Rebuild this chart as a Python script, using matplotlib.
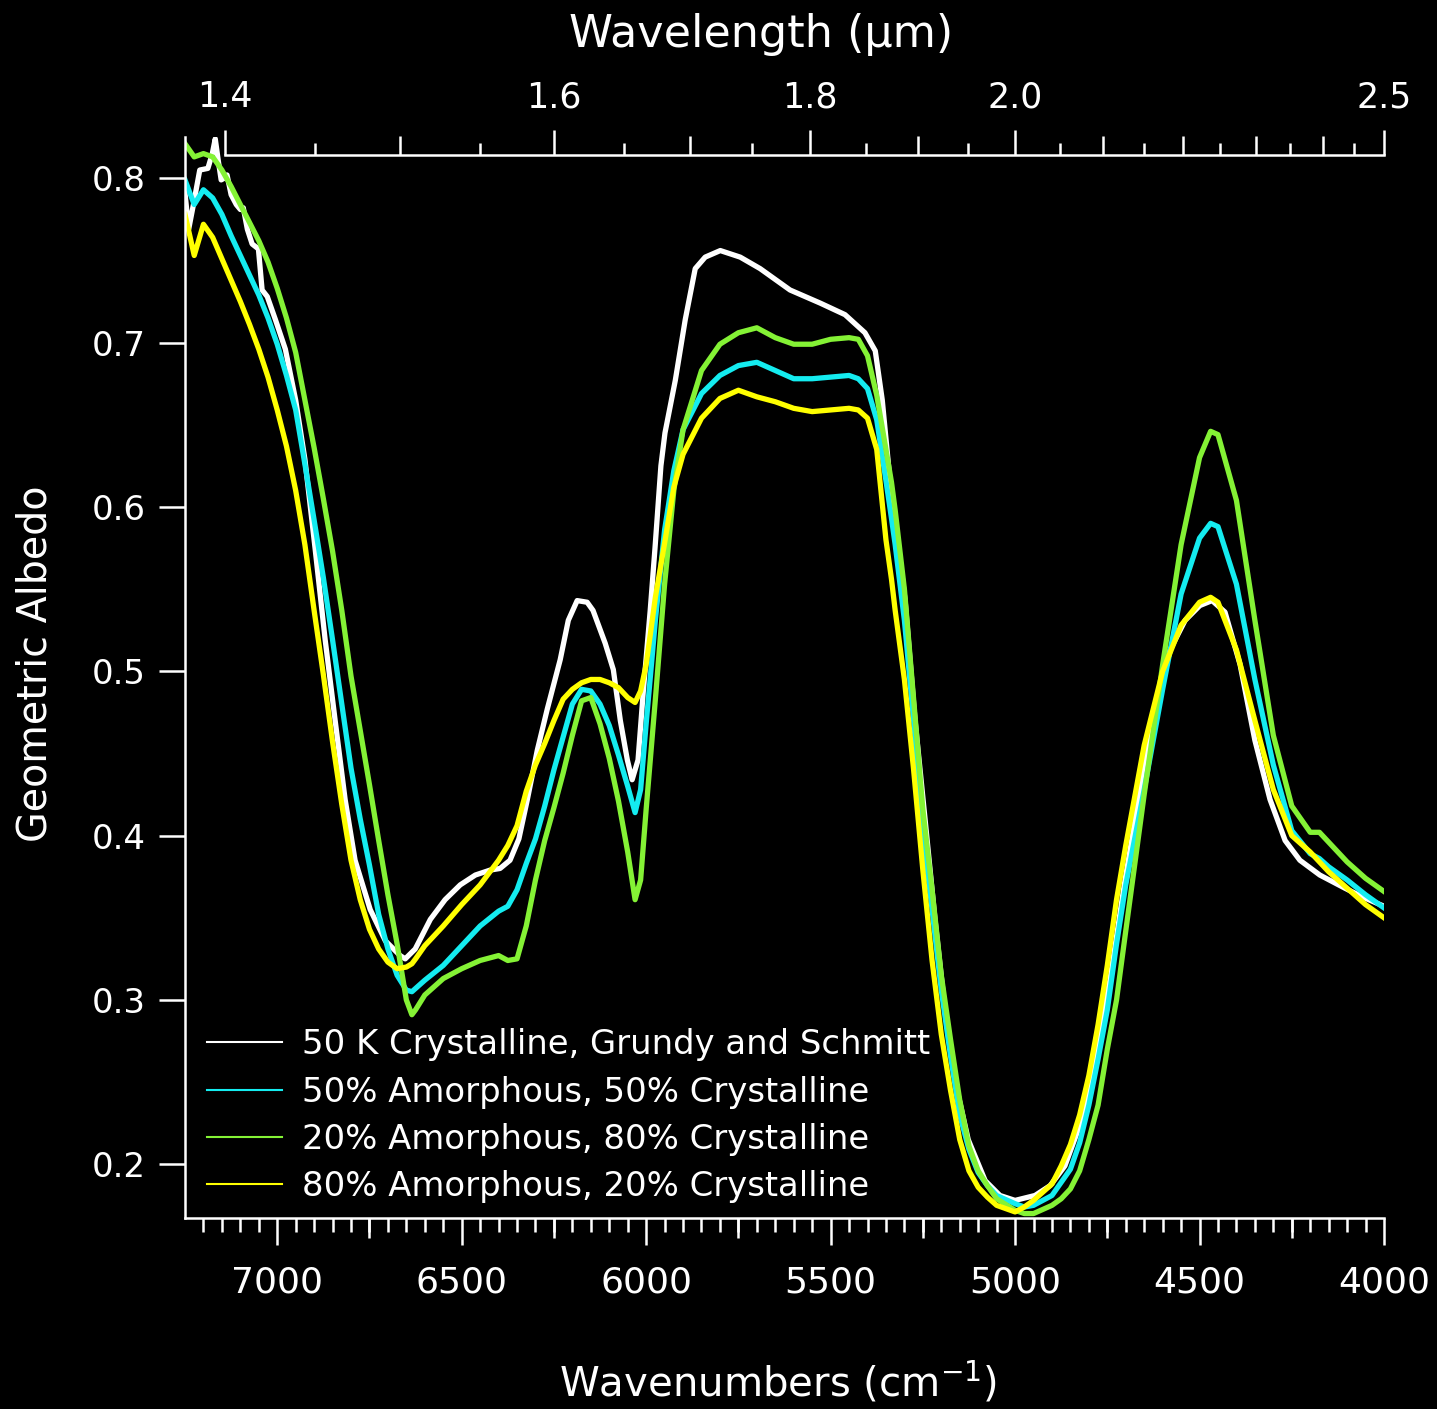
import numpy as np
import matplotlib
matplotlib.use("Agg")
import matplotlib.pyplot as plt
from matplotlib.ticker import FixedLocator, NullFormatter, NullLocator

# Wavenumber grid (cm^-1) shared by the three model spectra
wavenumber = [7250, 7225, 7200, 7175, 7150, 7125, 7100, 7075, 7050, 7025,
              7000, 6975, 6950, 6925, 6900, 6875, 6850, 6825, 6800, 6775,
              6750, 6725, 6700, 6675, 6650, 6635, 6625, 6600, 6550, 6500,
              6450, 6400, 6375, 6350, 6325, 6300, 6275, 6250, 6225, 6200,
              6175, 6150, 6125, 6100, 6075, 6050, 6030, 6015, 6000, 5975,
              5950, 5925, 5900, 5850, 5800, 5750, 5700, 5650, 5600, 5550,
              5500, 5450, 5425, 5400, 5375, 5350, 5335, 5325, 5300, 5275,
              5250, 5225, 5200, 5175, 5150, 5125, 5100, 5075, 5050, 5000,
              4975, 4950, 4900, 4875, 4850, 4825, 4800, 4775, 4750, 4725,
              4700, 4650, 4600, 4550, 4500, 4470, 4450, 4400, 4350, 4300,
              4250, 4200, 4175, 4150, 4100, 4050, 4000]

amorph50 = [0.799, 0.784, 0.793, 0.788, 0.778, 0.765, 0.753, 0.741, 0.729, 0.715,
            0.699, 0.680, 0.659, 0.626, 0.592, 0.557, 0.519, 0.480, 0.441, 0.410,
            0.382, 0.352, 0.331, 0.315, 0.306, 0.305, 0.307, 0.312, 0.321, 0.333,
            0.345, 0.354, 0.357, 0.367, 0.383, 0.398, 0.418, 0.440, 0.460, 0.480,
            0.489, 0.488, 0.480, 0.467, 0.449, 0.430, 0.414, 0.428, 0.468, 0.531,
            0.586, 0.622, 0.647, 0.669, 0.680, 0.686, 0.688, 0.683, 0.678, 0.678,
            0.679, 0.680, 0.678, 0.672, 0.653, 0.616, 0.593, 0.577, 0.531, 0.470,
            0.403, 0.355, 0.306, 0.266, 0.230, 0.209, 0.195, 0.187, 0.181, 0.176,
            0.174, 0.175, 0.181, 0.189, 0.197, 0.213, 0.236, 0.264, 0.294, 0.334,
            0.370, 0.428, 0.489, 0.547, 0.581, 0.590, 0.588, 0.553, 0.495, 0.443,
            0.403, 0.389, 0.386, 0.381, 0.373, 0.364, 0.356]

amorph20 = [0.821, 0.813, 0.815, 0.813, 0.805, 0.795, 0.784, 0.773, 0.762, 0.749,
            0.733, 0.715, 0.694, 0.665, 0.636, 0.605, 0.573, 0.537, 0.497, 0.464,
            0.431, 0.397, 0.364, 0.334, 0.300, 0.291, 0.294, 0.303, 0.313, 0.319,
            0.324, 0.327, 0.324, 0.325, 0.345, 0.373, 0.397, 0.417, 0.438, 0.461,
            0.482, 0.484, 0.468, 0.447, 0.421, 0.390, 0.361, 0.373, 0.416, 0.483,
            0.553, 0.610, 0.647, 0.683, 0.699, 0.706, 0.709, 0.703, 0.699, 0.699,
            0.702, 0.703, 0.702, 0.692, 0.668, 0.635, 0.615, 0.598, 0.550, 0.483,
            0.416, 0.367, 0.315, 0.276, 0.239, 0.211, 0.196, 0.187, 0.179, 0.172,
            0.170, 0.170, 0.175, 0.179, 0.185, 0.196, 0.215, 0.236, 0.270, 0.300,
            0.342, 0.425, 0.504, 0.577, 0.630, 0.646, 0.644, 0.604, 0.531, 0.461,
            0.418, 0.402, 0.402, 0.396, 0.384, 0.374, 0.366]

amorph80 = [0.778, 0.753, 0.772, 0.764, 0.751, 0.738, 0.725, 0.711, 0.696, 0.679,
            0.659, 0.637, 0.610, 0.577, 0.537, 0.498, 0.457, 0.419, 0.385, 0.361,
            0.343, 0.331, 0.323, 0.319, 0.320, 0.322, 0.325, 0.333, 0.345, 0.358,
            0.370, 0.385, 0.394, 0.406, 0.427, 0.443, 0.456, 0.470, 0.483, 0.489,
            0.493, 0.495, 0.495, 0.493, 0.490, 0.484, 0.481, 0.488, 0.504, 0.545,
            0.578, 0.612, 0.632, 0.654, 0.666, 0.671, 0.667, 0.664, 0.660, 0.658,
            0.659, 0.660, 0.659, 0.654, 0.635, 0.580, 0.556, 0.537, 0.495, 0.440,
            0.379, 0.324, 0.279, 0.245, 0.215, 0.196, 0.186, 0.180, 0.175, 0.171,
            0.174, 0.178, 0.188, 0.199, 0.212, 0.230, 0.254, 0.285, 0.321, 0.361,
            0.394, 0.455, 0.500, 0.528, 0.542, 0.545, 0.542, 0.513, 0.470, 0.428,
            0.400, 0.390, 0.384, 0.378, 0.368, 0.358, 0.350]

# Measured 50 K crystalline spectrum (its own, finer sampling)
lab_wavenumber = [7250, 7240, 7228, 7210, 7188, 7176, 7168, 7160, 7152, 7144,
                  7136, 7125, 7111, 7100, 7092, 7081, 7068, 7051, 7041, 7027,
                  7005, 6978, 6950, 6925, 6897, 6870, 6843, 6816, 6789, 6748,
                  6707, 6667, 6653, 6626, 6585, 6545, 6504, 6463, 6423, 6396,
                  6369, 6345, 6322, 6295, 6268, 6233, 6211, 6187, 6160, 6144,
                  6111, 6089, 6070, 6051, 6038, 6022, 6008, 5989, 5976, 5960,
                  5949, 5921, 5894, 5867, 5840, 5799, 5745, 5691, 5610, 5528,
                  5461, 5407, 5379, 5360, 5339, 5320, 5298, 5271, 5244, 5217,
                  5190, 5163, 5127, 5081, 5041, 5000, 4946, 4905, 4865, 4824,
                  4783, 4743, 4702, 4661, 4621, 4580, 4539, 4499, 4466, 4431,
                  4390, 4350, 4309, 4268, 4228, 4174, 4106, 4052, 4000]
crystalline50K = [0.791, 0.769, 0.783, 0.805, 0.806, 0.815, 0.824, 0.811, 0.799, 0.800,
                  0.802, 0.790, 0.784, 0.781, 0.782, 0.769, 0.760, 0.757, 0.732, 0.728,
                  0.714, 0.696, 0.665, 0.629, 0.574, 0.519, 0.470, 0.422, 0.385, 0.355,
                  0.336, 0.327, 0.325, 0.331, 0.349, 0.361, 0.370, 0.376, 0.379, 0.380,
                  0.385, 0.398, 0.422, 0.452, 0.477, 0.507, 0.531, 0.543, 0.542, 0.537,
                  0.517, 0.501, 0.470, 0.446, 0.434, 0.446, 0.487, 0.537, 0.575, 0.625,
                  0.645, 0.677, 0.714, 0.745, 0.752, 0.756, 0.752, 0.745, 0.732, 0.724,
                  0.717, 0.706, 0.695, 0.665, 0.616, 0.583, 0.543, 0.470, 0.410, 0.349,
                  0.294, 0.251, 0.215, 0.190, 0.181, 0.178, 0.181, 0.187, 0.199, 0.224,
                  0.264, 0.312, 0.373, 0.428, 0.476, 0.513, 0.531, 0.540, 0.543, 0.536,
                  0.504, 0.458, 0.422, 0.397, 0.385, 0.376, 0.368, 0.362, 0.357]

labels = ["50 K Crystalline, Grundy and Schmitt",
          "50% Amorphous, 50% Crystalline",
          "20% Amorphous, 80% Crystalline",
          "80% Amorphous, 20% Crystalline"]
colors = ["#ffffff", "#14ecf0", "#84f235", "#ffff00"]

wn_ticks = [7000, 6500, 6000, 5500, 5000, 4500, 4000]
wn_mid_ticks = [6750, 6250, 5750, 5250, 4750, 4250]
wn_minor_ticks = list(range(7200, 3999, -50))
um_ticks = [1.4, 1.6, 1.8, 2.0, 2.5]
um_tick_labels = ["1.4", "1.6", "1.8", "2.0", "2.5"]
um_mid_ticks = [1.5, 1.7, 1.9, 2.1, 2.2, 2.3, 2.4]
um_minor_ticks = [1.45, 1.55, 1.65, 1.75, 1.85, 1.95, 2.05, 2.15, 2.25, 2.35, 2.45]
albedo_ticks = [0.2, 0.3, 0.4, 0.5, 0.6, 0.7, 0.8]

W, H = 1437, 1409
fig = plt.figure(figsize=(W / 100, H / 100), dpi=100, facecolor="black")
ax = fig.add_axes([185 / W, 191 / H, 1199 / W, 1081 / H])
ax.set_facecolor("black")

LW = 3.8
ax.plot(lab_wavenumber, crystalline50K, color=colors[0], lw=LW, label=labels[0])
ax.plot(wavenumber, amorph50, color=colors[1], lw=LW, label=labels[1])
ax.plot(wavenumber, amorph20, color=colors[2], lw=LW, label=labels[2])
ax.plot(wavenumber, amorph80, color=colors[3], lw=LW, label=labels[3])

ax.set_xlim(7250, 4000)
ax.set_ylim(0.1673, 0.8251)

for side in ("top", "right"):
    ax.spines[side].set_visible(False)
for side in ("left", "bottom"):
    ax.spines[side].set_color("white")
    ax.spines[side].set_linewidth(1.8)

# bottom wavenumber axis
ax.xaxis.set_major_locator(FixedLocator(wn_ticks))
ax.set_xticklabels([str(t) for t in wn_ticks])
ax.xaxis.set_minor_locator(FixedLocator(wn_minor_ticks))
ax.tick_params(axis="x", which="major", direction="out", length=19.5, width=1.8,
               colors="white", labelsize=26, pad=15)
ax.tick_params(axis="x", which="minor", direction="out", length=10, width=1.8,
               colors="white")
mid = ax.secondary_xaxis("bottom")
mid.xaxis.set_major_locator(FixedLocator(wn_mid_ticks))
mid.xaxis.set_major_formatter(NullFormatter())
mid.xaxis.set_minor_locator(NullLocator())
mid.tick_params(axis="x", direction="out", length=14.4, width=1.8, colors="white")
for s in mid.spines.values():
    s.set_visible(False)

# left albedo axis
ax.yaxis.set_major_locator(FixedLocator(albedo_ticks))
ax.set_yticklabels([f"{t:.1f}" for t in albedo_ticks])
ax.tick_params(axis="y", direction="out", length=18.5, width=1.8,
               colors="white", labelsize=24.5, pad=9.5)


def inverse(x):
    x = np.asarray(x, dtype=float)
    with np.errstate(divide="ignore", invalid="ignore"):
        return 1e4 / x


# wavelength axis drawn just inside the top of the frame
top_pos = 1 - 18 / 1081
wl = ax.secondary_xaxis(top_pos, functions=(inverse, inverse))
wl.xaxis.set_major_locator(FixedLocator(um_ticks))
wl.set_xticklabels(um_tick_labels)
wl.xaxis.set_minor_locator(FixedLocator(um_minor_ticks))
wl.tick_params(axis="x", which="major", direction="out", length=18, width=1.8,
               colors="white", labelsize=25, pad=11.5)
wl.tick_params(axis="x", which="minor", direction="out", length=8.6, width=1.8,
               colors="white")
for name, s in wl.spines.items():
    s.set_color("white")
    s.set_linewidth(1.8)
wl.spines["top"].set_bounds(1.4, 2.5)

wl_mid = ax.secondary_xaxis(top_pos, functions=(inverse, inverse))
wl_mid.xaxis.set_major_locator(FixedLocator(um_mid_ticks))
wl_mid.xaxis.set_major_formatter(NullFormatter())
wl_mid.xaxis.set_minor_locator(NullLocator())
wl_mid.tick_params(axis="x", direction="out", length=13.7, width=1.8, colors="white")
for s in wl_mid.spines.values():
    s.set_visible(False)

# axis titles
fig.text(761 / W, 1 - 47 / H, "Wavelength (\u03bcm)", color="white", fontsize=32,
         ha="center", va="baseline")
fig.text(778 / W, 1 - 1397 / H, "Wavenumbers (cm$^{-1}$)", color="white",
         fontsize=29, ha="center", va="baseline")
fig.text(36 / W, 1 - 664 / H, "Geometric Albedo", color="white", fontsize=28.5,
         rotation=90, ha="center", va="center")

leg = ax.legend(loc="lower left", bbox_to_anchor=(22 / 1199, 15 / 1081),
                frameon=False, fontsize=24.4, labelcolor="white",
                handlelength=2.2, handletextpad=0.6, labelspacing=0.42,
                borderpad=0, borderaxespad=0)
for line in leg.get_lines():
    line.set_linewidth(1.5)

fig.savefig("out.png", dpi=100, facecolor="black")
